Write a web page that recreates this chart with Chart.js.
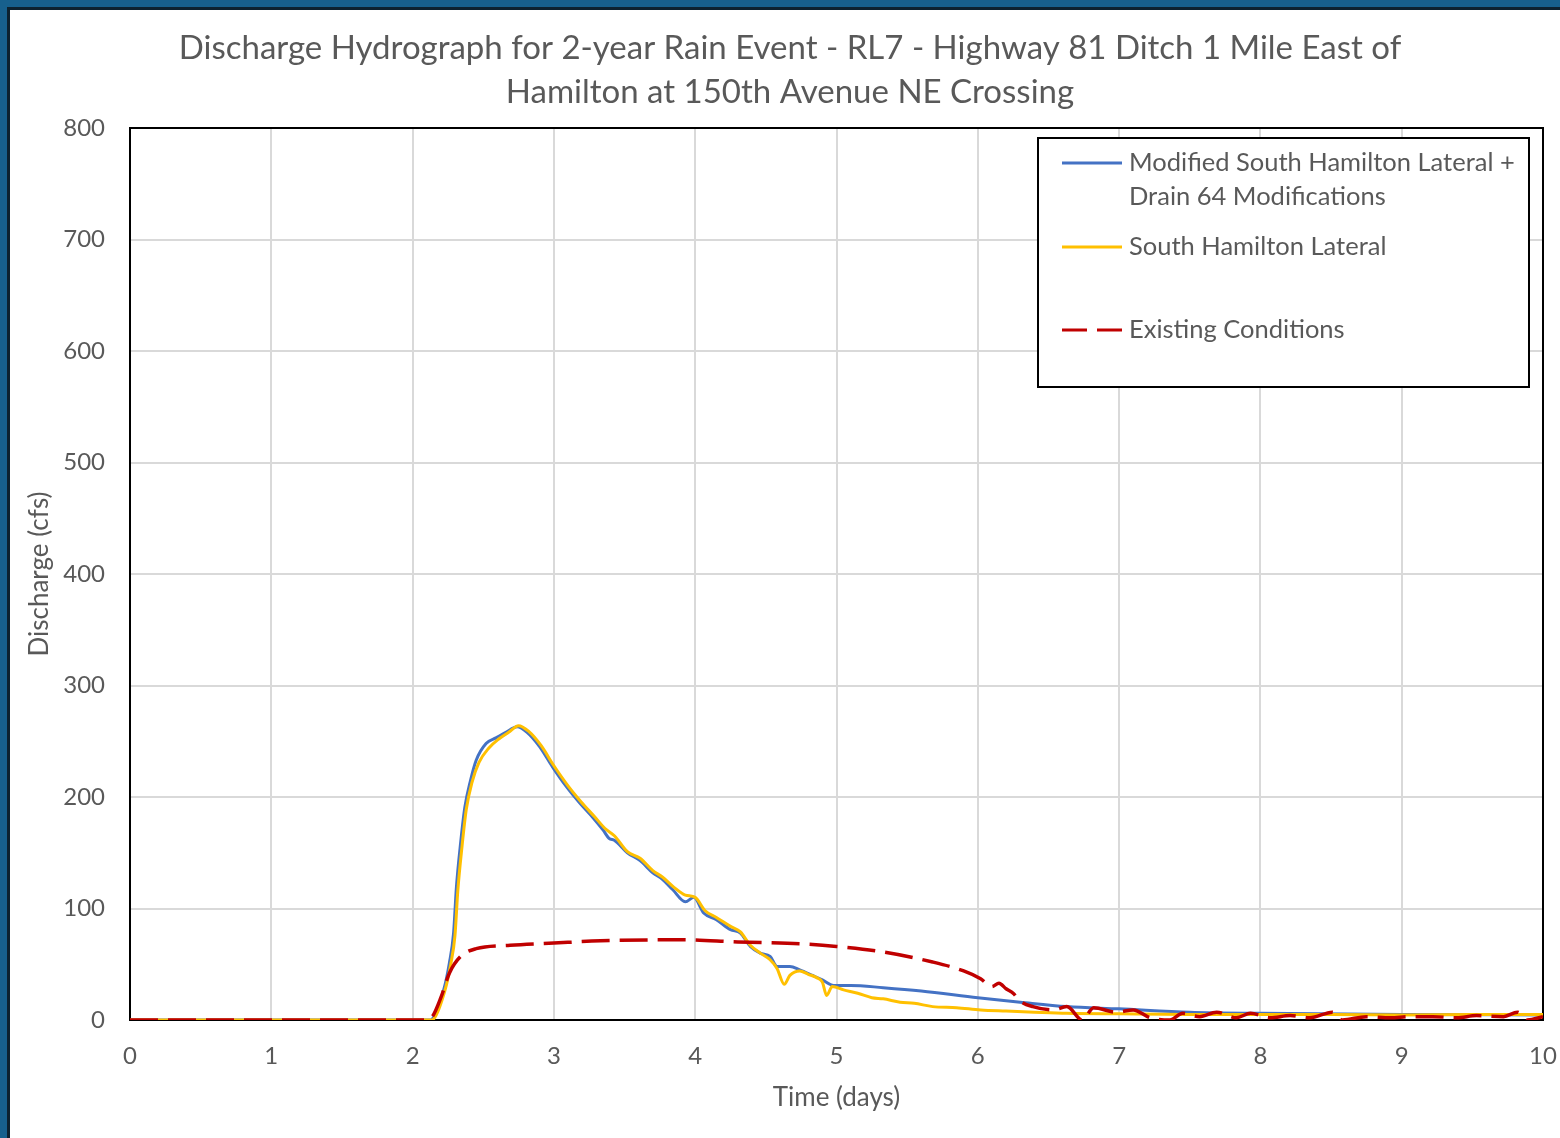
<!DOCTYPE html>
<html>
<head>
<meta charset="utf-8">
<script src="https://cdn.jsdelivr.net/npm/chart.js@4.4.1/dist/chart.umd.min.js"></script>
<style>
  body { margin: 0; width: 1560px; height: 1138px; background: #17608d; overflow: hidden; position: relative; }
  #panel { position: absolute; left: 7px; top: 7px; right: 0; bottom: 0; background: #fff; border-top: 3px solid #0d2230; border-left: 3px solid #0d2230; }
  #chart { position: absolute; left: 0; top: 0; }
</style>
</head>
<body>
<div id="panel"></div>
<canvas id="chart" width="1560" height="1138"></canvas>
<script>
const titleLines = ['Discharge Hydrograph for 2-year Rain Event - RL7 - Highway 81 Ditch 1 Mile East of', 'Hamilton at 150th Avenue NE Crossing'];

// Modified South Hamilton Lateral + Drain 64 Modifications
const blueDays = [0, 2.12, 2.14, 2.22, 2.26, 2.29, 2.31, 2.34, 2.37, 2.41, 2.45, 2.52, 2.59, 2.66, 2.74, 2.81, 2.90, 2.99, 3.09, 3.18, 3.28, 3.35, 3.39, 3.43, 3.52, 3.61, 3.70, 3.77, 3.84, 3.93, 3.99, 4.06, 4.15, 4.25, 4.32, 4.39, 4.46, 4.53, 4.58, 4.67, 4.74, 4.83, 4.90, 4.98, 5.10, 5.33, 5.60, 6.00, 6.30, 6.63, 7.00, 7.50, 8.00, 9.00, 10.0];
const blueFlow = [0, 0, 1, 27, 51, 78, 119, 159, 191, 215, 233, 248, 253, 258, 263, 258, 245, 227, 209, 195, 181, 170, 163, 161, 150, 143, 132, 126, 117, 106, 110, 96, 90, 81, 78, 66, 60, 57, 48, 48, 45, 40, 36, 31, 31, 29, 26, 20, 16, 12, 10, 7, 6, 5, 4.5];

// South Hamilton Lateral
const yellowDays = [0, 2.13, 2.15, 2.23, 2.27, 2.30, 2.32, 2.35, 2.38, 2.42, 2.47, 2.54, 2.61, 2.68, 2.75, 2.82, 2.91, 3.00, 3.10, 3.19, 3.29, 3.36, 3.43, 3.52, 3.61, 3.70, 3.77, 3.85, 3.93, 4.00, 4.07, 4.15, 4.25, 4.32, 4.39, 4.46, 4.53, 4.58, 4.63, 4.67, 4.74, 4.80, 4.86, 4.90, 4.93, 4.97, 5.05, 5.15, 5.25, 5.33, 5.45, 5.55, 5.68, 5.85, 6.02, 6.20, 6.40, 6.63, 7.00, 7.50, 8.00, 8.50, 9.00, 9.50, 10.0];
const yellowFlow = [0, 0, 1, 27, 50, 76, 116, 156, 189, 213, 231, 244, 252, 258, 264, 259, 246, 228, 210, 196, 182, 172, 165, 151, 145, 134, 128, 119, 112, 110, 98, 92, 84, 79, 67, 60, 54, 46, 32, 40, 44, 41, 38, 34, 22, 30, 27, 24, 20, 19, 16, 15, 12, 11, 9, 8, 7, 6, 5.5, 5, 5, 5, 4.5, 5, 5];

// Existing Conditions
const redDays = [0, 2.10, 2.14, 2.20, 2.26, 2.34, 2.45, 2.69, 3.00, 3.33, 3.90, 4.30, 4.80, 5.00, 5.33, 5.68, 5.90, 6.02, 6.10, 6.15, 6.20, 6.25, 6.30, 6.39, 6.53, 6.63, 6.74, 6.82, 6.98, 7.10, 7.22, 7.36, 7.45, 7.57, 7.69, 7.83, 7.93, 8.07, 8.21, 8.35, 8.51, 8.58, 8.75, 8.92, 9.06, 9.22, 9.39, 9.53, 9.72, 9.82, 9.89, 10.0];
const redFlow = [0, 0, 3, 20, 42, 57, 64, 67, 69, 71, 72, 70, 68, 66, 61, 52, 44, 37, 30, 33, 28, 24, 17, 12, 9, 12, 0, 11, 7, 9, 2, 0, 6, 3, 7, 2, 6, 2, 4, 2, 7, 0, 3, 2, 3, 3, 2, 4, 3, 7, 0, 3];

const seriesLabels = ['Modified South Hamilton Lateral + Drain 64 Modifications', 'South Hamilton Lateral', 'Existing Conditions'];

const FONT = 'Lato, "Open Sans", sans-serif';
const TEXT = '#595959';

const toPoints = (xs, ys) => xs.map((x, i) => ({ x: x, y: ys[i] }));

// box around the plot area (Excel style)
const plotBox = {
  id: 'plotBox',
  beforeDatasetsDraw(chart) {
    const { ctx, chartArea: a } = chart;
    ctx.save();
    ctx.strokeStyle = '#000';
    ctx.lineWidth = 2;
    ctx.strokeRect(a.left, a.top, a.right - a.left, a.bottom - a.top);
    ctx.restore();
  }
};

// legend with a wrapped first entry
const boxLegend = {
  id: 'boxLegend',
  afterDraw(chart) {
    const ctx = chart.ctx;
    const ds = chart.data.datasets;
    ctx.save();
    ctx.fillStyle = '#fff';
    ctx.fillRect(1038, 138, 491, 249);
    ctx.strokeStyle = '#000';
    ctx.lineWidth = 2;
    ctx.strokeRect(1038, 138, 491, 249);

    const rows = [
      { d: ds[0], y: 163, lines: ['Modified South Hamilton Lateral +', 'Drain 64 Modifications'] },
      { d: ds[1], y: 247, lines: ['South Hamilton Lateral'] },
      { d: ds[2], y: 330, lines: ['Existing Conditions'] }
    ];
    ctx.font = '25.5px ' + FONT;
    ctx.textBaseline = 'middle';
    ctx.textAlign = 'left';
    rows.forEach(r => {
      ctx.beginPath();
      ctx.strokeStyle = r.d.borderColor;
      ctx.lineWidth = 3;
      ctx.setLineDash(r.d.borderDash && r.d.borderDash.length ? [25, 10] : []);
      ctx.moveTo(1062, r.y);
      ctx.lineTo(1122, r.y);
      ctx.stroke();
      ctx.setLineDash([]);
      ctx.fillStyle = TEXT;
      r.lines.forEach((t, i) => ctx.fillText(t, 1129, r.y + i * 34));
    });
    ctx.restore();
  }
};

new Chart(document.getElementById('chart'), {
  type: 'line',
  data: {
    datasets: [
      {
        label: seriesLabels[0],
        data: toPoints(blueDays, blueFlow),
        borderColor: '#4472C4',
        borderWidth: 3,
        order: 2
      },
      {
        label: seriesLabels[1],
        data: toPoints(yellowDays, yellowFlow),
        borderColor: '#FFC000',
        borderWidth: 3,
        order: 1
      },
      {
        label: seriesLabels[2],
        data: toPoints(redDays, redFlow),
        borderColor: '#C00000',
        borderWidth: 3.5,
        borderDash: [28, 10],
        order: 0
      }
    ]
  },
  options: {
    responsive: false,
    animation: false,
    devicePixelRatio: 1,
    layout: { padding: { left: 37, right: 17, top: 0, bottom: 0 } },
    elements: {
      point: { radius: 0 },
      line: { fill: false, cubicInterpolationMode: 'monotone' }
    },
    plugins: {
      legend: { display: false },
      tooltip: { enabled: false },
      title: {
        display: true,
        text: titleLines,
        color: TEXT,
        font: { family: FONT, size: 33, weight: 'normal', lineHeight: '44px' },
        padding: { top: 26, bottom: 14 }
      }
    },
    scales: {
      x: {
        type: 'linear',
        min: 0,
        max: 10,
        ticks: { stepSize: 1, color: TEXT, font: { family: FONT, size: 24 }, padding: 22 },
        grid: { color: '#d9d9d9', lineWidth: 2, drawTicks: false },
        border: { display: false },
        title: { display: true, text: 'Time (days)', color: TEXT, font: { family: FONT, size: 26 }, padding: { top: 0, bottom: 25 } },
        afterFit(scale) {
          scale.height = 118;
          scale.paddingLeft = 0;
          scale.paddingRight = 0;
        }
      },
      y: {
        min: 0,
        max: 800,
        ticks: { stepSize: 100, color: TEXT, font: { family: FONT, size: 24 }, padding: 25 },
        grid: { color: '#d9d9d9', lineWidth: 2, drawTicks: false },
        border: { display: false },
        title: { display: true, text: 'Discharge (cfs)', color: TEXT, font: { family: FONT, size: 26 }, padding: { top: -13, bottom: 0 } },
        afterFit(scale) {
          scale.width = 93;
          scale.paddingTop = 0;
          scale.paddingBottom = 0;
        }
      }
    }
  },
  plugins: [plotBox, boxLegend]
});
</script>
</body>
</html>
